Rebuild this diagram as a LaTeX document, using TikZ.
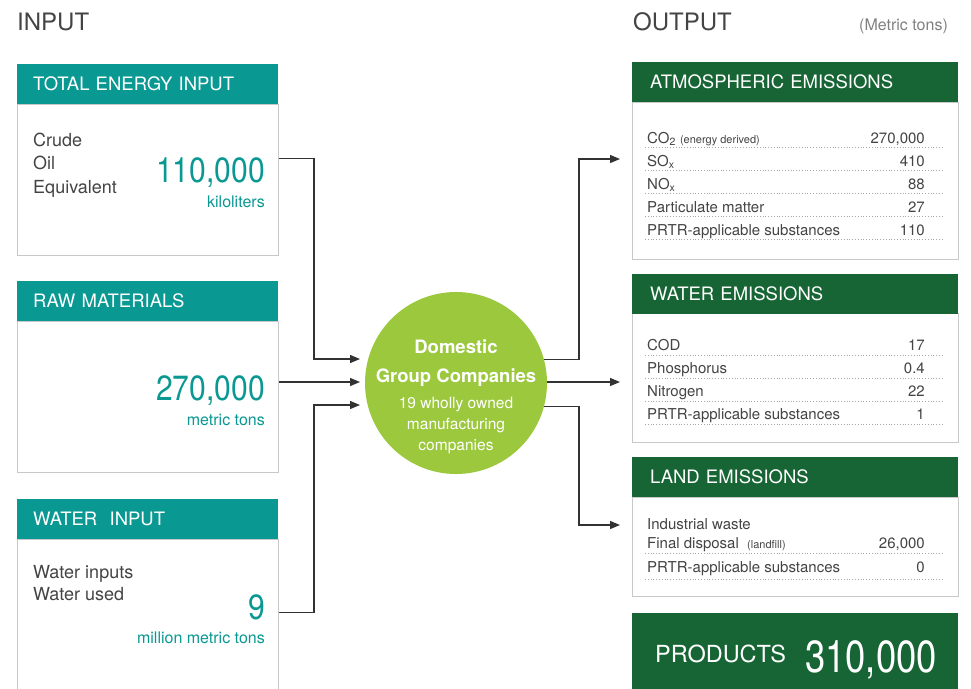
\documentclass[tikz,border=0pt]{standalone}
\usepackage{fontspec}
\setmainfont{TeX Gyre Heros}
\usetikzlibrary{arrows.meta}

\definecolor{inteal}{RGB}{10,152,147}
\definecolor{outgreen}{RGB}{23,101,53}
\definecolor{hubgreen}{RGB}{155,200,61}
\definecolor{intext}{RGB}{68,68,68}
\definecolor{inborder}{RGB}{200,200,200}
\definecolor{inline}{RGB}{50,50,50}
\newcommand\setfs[2]{\fontsize{#1}{#2}\selectfont}
\newcommand\narrownum[1]{\scalebox{0.86}[1]{#1}}

\tikzset{
  title/.style={anchor=base west, inner sep=0pt, text=intext, font=\setfs{24}{28}},
  bodybox/.style={draw=inborder, line width=1pt, fill=white, anchor=north west, inner sep=0pt},
  hdrbox/.style={anchor=north west, inner xsep=16pt, inner ysep=0pt, minimum height=40pt,
    align=left, text=white, font=\setfs{18.5}{22}},
  txtL/.style={anchor=base west, inner sep=0pt, text=intext, font=\setfs{18}{22}},
  numL/.style={anchor=base east, inner sep=0pt, text=inteal, font=\setfs{35}{38}},
  unitL/.style={anchor=base east, inner sep=0pt, text=inteal, font=\setfs{16}{20}},
  rowlab/.style={anchor=base west, inner sep=0pt, text=intext, font=\setfs{15}{18}},
  rowval/.style={anchor=base east, inner sep=0pt, text=intext, font=\setfs{15}{18}},
  dotrule/.style={draw=gray!70, line width=0.8pt, dash pattern=on 0.8pt off 2pt},
  flow/.style={draw=inline, line width=1.3pt, -{Triangle[length=10pt,width=8pt]}},
}

\begin{document}
\begin{tikzpicture}[x=1pt,y=-1pt]
  \useasboundingbox (0,0) rectangle (971,688);

  \node[title] (inputt) at (17,30) {INPUT};
  \node[title] (outputt) at (633,30) {OUTPUT};
  \node[anchor=base east, inner sep=0pt, text=gray, font=\setfs{16}{20}] (units) at (948,30) {(Metric tons)};

  % input side
  \node[bodybox, minimum width=261pt, minimum height=151pt] (energy) at (17,104) {};
  \node[hdrbox, fill=inteal, text width=229pt] (energyhd) at (17,64) {TOTAL ENERGY INPUT};
  \foreach \t [count=\i] in {Crude,Oil,Equivalent}
    \node[txtL] (crude\i) at (33,{146+23.5*(\i-1)}) {\t};
  \node[numL] (energynum) at (265,182) {\narrownum{110,000}};
  \node[unitL] (energyunit) at (265,207) {kiloliters};

  \node[bodybox, minimum width=261pt, minimum height=151pt] (raw) at (17,321) {};
  \node[hdrbox, fill=inteal, text width=229pt] (rawhd) at (17,281) {RAW MATERIALS};
  \node[numL] (rawnum) at (265,400) {\narrownum{270,000}};
  \node[unitL] (rawunit) at (265,425) {metric tons};

  \node[bodybox, minimum width=261pt, minimum height=151pt] (water) at (17,539) {};
  \node[hdrbox, fill=inteal, text width=229pt] (waterhd) at (17,499) {WATER\ \ INPUT};
  \foreach \t [count=\i] in {Water inputs,Water used}
    \node[txtL] (wtxt\i) at (33,{578+22*(\i-1)}) {\t};
  \node[numL] (waternum) at (265,619) {\narrownum{9}};
  \node[unitL] (waterunit) at (265,643) {million metric tons};

  % hub
  \node[circle, fill=hubgreen, minimum size=182pt, inner sep=0pt] (dgc) at (456,383) {};
  \node[anchor=base, inner sep=0pt, text=white, font=\setfs{18.5}{22}\bfseries] (dom) at (456,353) {Domestic};
  \node[anchor=base, inner sep=0pt, text=white, font=\setfs{18.5}{22}\bfseries] (grp) at (456,382) {Group Companies};
  \foreach \t [count=\i] in {19 wholly owned,manufacturing,companies}
    \node[anchor=base, inner sep=0pt, text=white, font=\setfs{15.5}{18}] (sub\i) at (456,{408+21*(\i-1)}) {\t};

  % output side
  \node[bodybox, minimum width=326pt, minimum height=157pt] (atm) at (632,102) {};
  \node[hdrbox, fill=outgreen, text width=290pt, inner xsep=18pt] (atmhd) at (632,62) {ATMOSPHERIC EMISSIONS};
  \foreach \lab/\val [count=\i] in {{CO\textsubscript{2} {\setfs{11}{13}(energy derived)}}/{270,000},
      {SO\textsubscript{x}}/410, {NO\textsubscript{x}}/88, {Particulate matter}/27,
      {PRTR-applicable substances}/110} {
    \node[rowlab] (atml\i) at (647,{143+23*(\i-1)}) {\lab};
    \node[rowval] (atmv\i) at (925,{143+23*(\i-1)}) {\val};
    \draw[dotrule] (645,{147+23*(\i-1)}) -- (942,{147+23*(\i-1)});
  }

  \node[bodybox, minimum width=326pt, minimum height=129pt] (wem) at (632,313) {};
  \node[hdrbox, fill=outgreen, text width=290pt, inner xsep=18pt] (wemhd) at (632,274) {WATER EMISSIONS};
  \foreach \lab/\val [count=\i] in {COD/17, Phosphorus/0.4, Nitrogen/22, {PRTR-applicable substances}/1} {
    \node[rowlab] (weml\i) at (647,{350+23*(\i-1)}) {\lab};
    \node[rowval] (wemv\i) at (925,{350+23*(\i-1)}) {\val};
    \draw[dotrule] (645,{355+23*(\i-1)}) -- (942,{355+23*(\i-1)});
  }

  \node[bodybox, minimum width=326pt, minimum height=99pt] (land) at (632,497) {};
  \node[hdrbox, fill=outgreen, text width=290pt, inner xsep=18pt] (landhd) at (632,457) {LAND EMISSIONS};
  \node[rowlab] (landl0) at (647,529) {Industrial waste};
  \node[rowlab] (landl1) at (647,548) {Final disposal\ \ {\setfs{11}{13}(landfill)}};
  \node[rowval] (landv1) at (925,548) {26,000};
  \draw[dotrule] (645,553) -- (942,553);
  \node[rowlab] (landl2) at (647,572) {PRTR-applicable substances};
  \node[rowval] (landv2) at (925,572) {0};
  \draw[dotrule] (645,579) -- (942,579);

  \node[anchor=north west, fill=outgreen, minimum width=326pt, minimum height=80pt, inner sep=0pt] (prod) at (632,613) {};
  \node[anchor=base west, inner sep=0pt, text=white, font=\setfs{23.5}{28}] (prodl) at (655,662) {PRODUCTS};
  \node[anchor=base east, inner sep=0pt, text=white, font=\setfs{45}{48}] (prodv) at (937,672) {\scalebox{0.81}[1]{310,000}};

  % connectors
  \coordinate (in1) at (360,359);
  \coordinate (in2) at (360,382);
  \coordinate (in3) at (360,405);
  \coordinate (out1) at (620,159);
  \coordinate (out2) at (620,382);
  \coordinate (out3) at (620,525);
  \draw[flow] ([yshift=21.5pt]energy.east) -- ++(35,0) |- (in1);
  \draw[flow] (raw.east |- in2) -- (in2);
  \draw[flow] ([yshift=2.5pt]water.east) -- ++(35,0) |- (in3);
  \draw[flow] (dgc.15) -- ++(35,0) |- (out1);
  \draw[flow] (dgc.east |- out2) -- (out2);
  \draw[flow] (dgc.-15) -- ++(35,0) |- (out3);
\end{tikzpicture}
\end{document}
